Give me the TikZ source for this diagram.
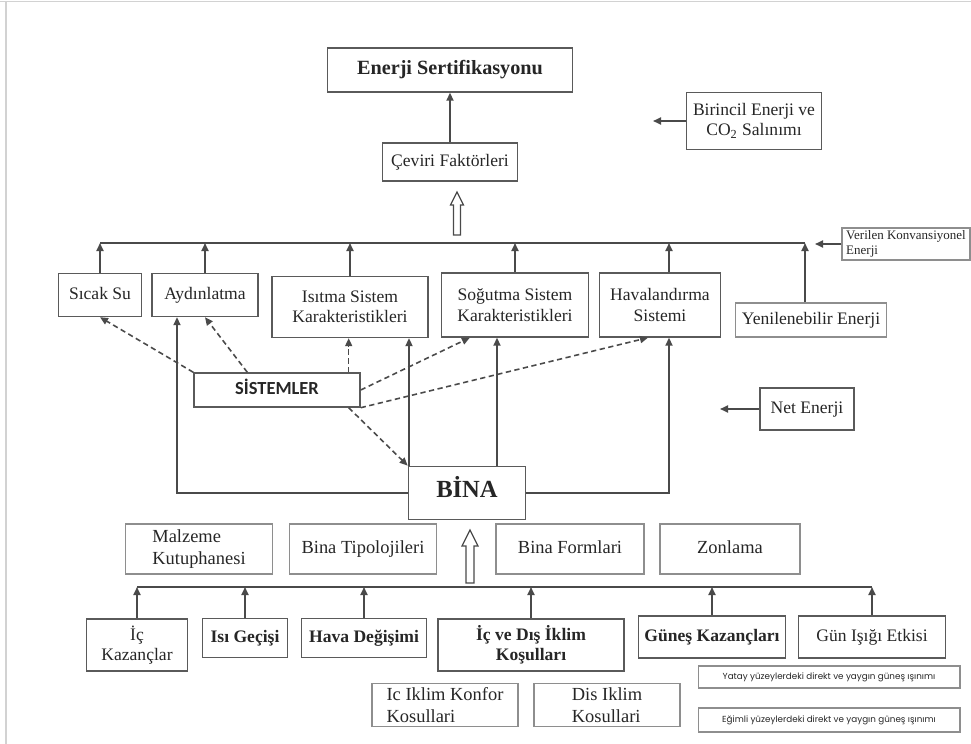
\documentclass[tikz,border=0pt]{standalone}
\usepackage{fontspec}
\setmainfont{Liberation Serif}
\newfontfamily\sisfont{Carlito}
\newfontfamily\gfont{Poppins}
\usetikzlibrary{calc,arrows.meta}
\definecolor{lncol}{HTML}{4A4A4A}
\definecolor{boxcol}{HTML}{5A5A5A}
\definecolor{litecol}{HTML}{8E8E8E}
\definecolor{txtcol}{HTML}{262626}
\def\fs#1#2{\fontsize{#1}{#2}\selectfont}

\begin{document}
\begin{tikzpicture}[x=0.02cm, y=-0.02cm,
    box/.style={draw=boxcol, line width=0.8pt, inner sep=1pt, align=center, text=txtcol, font=\fs{10}{11.5}},
    litebox/.style={box, draw=litecol, line width=0.6pt},
    oneline/.style={text height=1.6ex, text depth=0.45ex},
    arr/.style={draw=lncol, line width=1pt, -{Triangle[length=1.6mm,width=1.4mm]}},
    dasharr/.style={arr, line width=0.9pt, dash pattern=on 3pt off 2pt},
    busline/.style={draw=lncol, line width=1pt},
    hollow/.style={draw=lncol, line width=0.7pt, fill=white}]
    %%%%% START %%%%%
    \useasboundingbox (0,0) rectangle (971,744);
    \draw[gray!35, line width=0.8pt] (0,1.5) -- (971,1.5);
    \draw[gray!35, line width=0.8pt] (6,1.5) -- (6,744);

    % ust kisim
    \node[box, oneline, font=\fs{11.5}{13}\bfseries, minimum width=4.9cm, minimum height=0.88cm] (sert) at (450,70) {Enerji Sertifikasyonu};
    \node[box, oneline, minimum width=2.7cm, minimum height=0.76cm] (cevir) at (450,162) {Çeviri Faktörleri};
    \node[box, minimum width=2.7cm, minimum height=1.14cm] (birincil) at (754,121) {Birincil Enerji ve\\CO\textsubscript{2} Salınımı};

    \coordinate (pbir) at (653,0);
    \draw[arr] (cevir.north) -- (cevir.north |- sert.south);
    \draw[arr] (birincil.west) -- (birincil.west -| pbir);
    \draw[hollow] (453.5,235) -- (453.5,205) -- (450.5,205) -- (457,192) -- (463.5,205) -- (460.5,205) -- (460.5,235) -- cycle;

    % enerji kalemleri
    \node[box, oneline, minimum width=1.66cm, minimum height=0.86cm] (sicak) at (100,295) {Sıcak Su};
    \node[box, oneline, minimum width=2.12cm, minimum height=0.86cm] (aydin) at (205,295) {Aydınlatma};
    \node[box, minimum width=3.12cm, minimum height=1.22cm] (isitma) at (350,307) {Isıtma Sistem\\Karakteristikleri};
    \node[box, minimum width=2.94cm, minimum height=1.28cm] (sogutma) at (515,305) {Soğutma Sistem\\Karakteristikleri};
    \node[box, minimum width=2.42cm, minimum height=1.28cm] (havaland) at (660,305) {Havalandırma\\Sistemi};
    \node[litebox, oneline, minimum width=3.02cm, minimum height=0.68cm] (yenil) at (811,320) {Yenilenebilir Enerji};
    \node[litebox, font=\fs{7.4}{8.4}, align=left, minimum width=2.56cm, minimum height=0.64cm] (verilen) at (906,244) {Verilen Konvansiyonel\\Enerji\hspace*{17mm}};
    \node[box, oneline, minimum width=1.88cm, minimum height=0.84cm] (net) at (807,409) {Net Enerji};

    \coordinate (tbus) at (0,243);
    \coordinate (ycol) at (805,0);
    \coordinate (hcol) at (669,0);
    \coordinate (acol) at (177,0);
    \coordinate (icol) at (409,0);
    \coordinate (scol) at (497,0);
    \coordinate (pver) at (815,0);
    \coordinate (pnet) at (720,0);

    \draw[busline] (sicak.north |- tbus) -- (ycol |- tbus);
    \foreach \n in {sicak,aydin,isitma,sogutma}
        \draw[arr] (\n.north) -- (\n.north |- tbus);
    \draw[arr] (hcol |- havaland.north) -- (hcol |- tbus);
    \draw[arr] (ycol |- yenil.north) -- (ycol |- tbus);
    \draw[arr] (verilen.west) -- (verilen.west -| pver);
    \draw[arr] (net.west) -- (net.west -| pnet);

    % sistemler ve bina
    \node[box, oneline, font=\fs{10.5}{12}\sisfont\bfseries, minimum width=3.32cm, minimum height=0.68cm] (sistem) at (277,390) {SİSTEMLER};
    \node[box, oneline, font=\fs{14}{16}\bfseries, line width=1pt, minimum width=2.34cm, minimum height=1.06cm] (bina) at (467,493) {BİNA};

    \coordinate (dcol) at ($(sistem.north east)+(-12,0)$);
    \draw[dasharr] (sistem.north west) -- (sicak.south);
    \draw[dasharr] ($(sistem.north west)+(54,0)$) -- (aydin.south);
    \draw[dasharr] (dcol) -- (dcol |- isitma.south);
    \draw[dasharr] (sistem.east) -- ($(sogutma.south west)+(29,0)$);
    \draw[dasharr] (sistem.south east) -- ($(havaland.south)+(-12,0)$);
    \draw[dasharr] ($(sistem.south east)+(-12,0)$) -- (bina.north west);

    \draw[arr] (bina.west) -| (acol |- aydin.south);
    \draw[arr, line width=1.3pt] (icol |- bina.north) -- (icol |- isitma.south);
    \draw[arr] (scol |- bina.north) -- (scol |- sogutma.south);
    \draw[arr] (bina.east) -| (hcol |- havaland.south);

    % bina verileri
    \node[litebox, font=\fs{10.5}{12.5}, align=left, minimum width=2.94cm, minimum height=1cm] (malzeme) at (199,549) {Malzeme\\Kutuphanesi};
    \node[litebox, oneline, font=\fs{10.5}{12.5}, minimum width=2.94cm, minimum height=1cm] (tipo) at (363,549) {Bina Tipolojileri};
    \node[litebox, oneline, font=\fs{10.5}{12.5}, minimum width=2.96cm, minimum height=1cm] (formlari) at (570,549) {Bina Formlari};
    \node[litebox, oneline, font=\fs{10.5}{12.5}, minimum width=2.8cm, minimum height=1cm] (zonlama) at (730,549) {Zonlama};
    \draw[hollow] (466,583) -- (466,546) -- (462,546) -- (470,530) -- (478,546) -- (474,546) -- (474,583) -- cycle;

    % alt kisim
    \node[box, minimum width=2.02cm, minimum height=1.04cm] (ickaz) at (137,645) {İç\\Kazançlar};
    \node[box, oneline, font=\fs{10}{11.5}\bfseries, minimum width=1.7cm, minimum height=0.78cm] (isigec) at (245,638) {Isı Geçişi};
    \node[box, oneline, font=\fs{10}{11.5}\bfseries, minimum width=2.5cm, minimum height=0.78cm] (havadeg) at (364,638) {Hava Değişimi};
    \node[box, font=\fs{10}{11.5}\bfseries, minimum width=3.72cm, minimum height=1.04cm] (icdis) at (531,645) {İç ve Dış İklim\\Koşulları};
    \node[box, oneline, font=\fs{10}{11.5}\bfseries, minimum width=2.94cm, minimum height=0.84cm] (gunes) at (712,637) {Güneş Kazançları};
    \node[box, oneline, minimum width=2.94cm, minimum height=0.84cm] (gunisigi) at (872,637) {Gün Işığı Etkisi};

    \node[litebox, font=\fs{10.5}{12.5}, align=left, minimum width=2.92cm, minimum height=0.86cm] (icklim) at (445,705) {Ic Iklim Konfor\\Kosullari};
    \node[litebox, font=\fs{10.5}{12.5}, align=left, minimum width=2.92cm, minimum height=0.86cm] (disklim) at (607,705) {Dis Iklim\\Kosullari};
    \node[litebox, font=\fs{5}{6}\gfont, minimum width=5.24cm, minimum height=0.44cm] (yatay) at (829,677) {Yatay yüzeylerdeki direkt ve yaygın güneş ışınımı};
    \node[litebox, font=\fs{5}{6}\gfont, minimum width=5.24cm, minimum height=0.48cm] (egimli) at (829,720) {Eğimli yüzeylerdeki direkt ve yaygın güneş ışınımı};

    \coordinate (bbus) at (0,587);
    \draw[busline] (ickaz.north |- bbus) -- (gunisigi.north |- bbus);
    \foreach \n in {ickaz,isigec,havadeg,icdis,gunes,gunisigi}
        \draw[arr] (\n.north) -- (\n.north |- bbus);
    %%%%% END %%%%%
\end{tikzpicture}
\end{document}
